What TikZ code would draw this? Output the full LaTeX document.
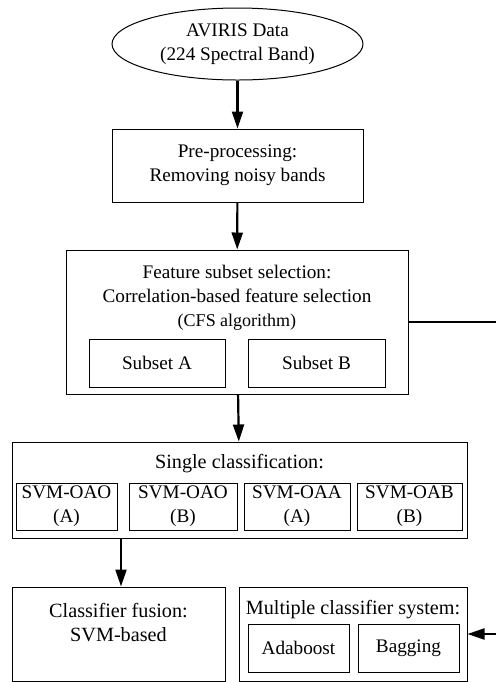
\documentclass[tikz,border=0pt]{standalone}
\usepackage{fontspec}
\setmainfont{Liberation Serif}
\usetikzlibrary{arrows.meta,positioning,shapes.geometric}

\begin{document}
\begin{tikzpicture}[x=0.5pt,y=-0.5pt,
    font=\fontsize{9.6}{12}\selectfont,
    box/.style={rectangle,draw,line width=0.5pt,inner sep=0pt,align=center},
    title/.style={align=center,inner sep=0pt,font=\fontsize{10.1}{12}\selectfont},
    flow/.style={-{Triangle[length=8.5pt,width=5.5pt]},line width=1.1pt}]
    \useasboundingbox (0,0) rectangle (496,682);

    % Input data
    \node[ellipse,draw,line width=0.5pt,minimum width=125.5pt,minimum height=36pt,inner sep=0pt,align=center] (data) at (237.5,44) {AVIRIS Data\\(224 Spectral Band)};

    % Pre-processing
    \node[box,minimum width=125.5pt,minimum height=36.5pt] (prep) at (237.5,165.5) {Pre-processing:\\Removing noisy bands};

    % Feature subset selection
    \node[box,minimum width=171pt,minimum height=72pt] (feat) at (237,322) {};
    \node[align=center,inner sep=0pt] (feattitle) at (237,298) {Feature subset selection:\\Correlation-based feature selection\\{\fontsize{9}{12}\selectfont (CFS algorithm)}};
    \node[box,minimum width=68pt,minimum height=24pt] (subA) at (157,363) {Subset A};
    \node[box,minimum width=68.5pt,minimum height=24pt] (subB) at (316.5,363) {Subset B};

    % Single classification
    \node[box,minimum width=227.5pt,minimum height=48pt] (single) at (239.5,490) {};
    \node[title] (singletitle) at (239.5,464) {Single classification:};
    \node[box,minimum width=50.5pt,minimum height=23.5pt] (oaoA) at (66.5,506.5) {SVM-OAO\\(A)};
    \node[box,minimum width=54pt,minimum height=23.5pt] (oaoB) at (183,506.5) {SVM-OAO\\(B)};
    \node[box,minimum width=53pt,minimum height=23.5pt] (oaaA) at (297,506.5) {SVM-OAA\\(A)};
    \node[box,minimum width=52.5pt,minimum height=23.5pt] (oabB) at (409.5,506.5) {SVM-OAB\\(B)};

    % Classifier fusion
    \node[box,minimum width=106.5pt,minimum height=47pt] (fusion) at (118.5,634) {};
    \node[title] (fusiontxt) at (118.5,623) {Classifier fusion:\\SVM-based};

    % Multiple classifier system
    \node[box,minimum width=114pt,minimum height=47pt] (multi) at (353,634) {};
    \node[title] (multititle) at (353,610) {Multiple classifier system:};
    \node[box,minimum width=50.5pt,minimum height=24pt] (ada) at (298.5,648) {Adaboost};
    \node[box,minimum width=50.5pt,minimum height=24pt] (bag) at (408.5,648) {Bagging};

    % Connectors
    \coordinate (rside) at (500,0);
    \draw[flow] (data) -- (prep);
    \draw[flow] (prep) -- (feat);
    \draw[flow] (feat) -- (single);
    \draw[flow] (single.south -| fusion.north) ++(2.5,0) coordinate (sbot) -- (sbot |- fusion.north);
    \draw[flow] (feat.east) -| (rside |- multi.east) -- (multi.east);
\end{tikzpicture}
\end{document}
